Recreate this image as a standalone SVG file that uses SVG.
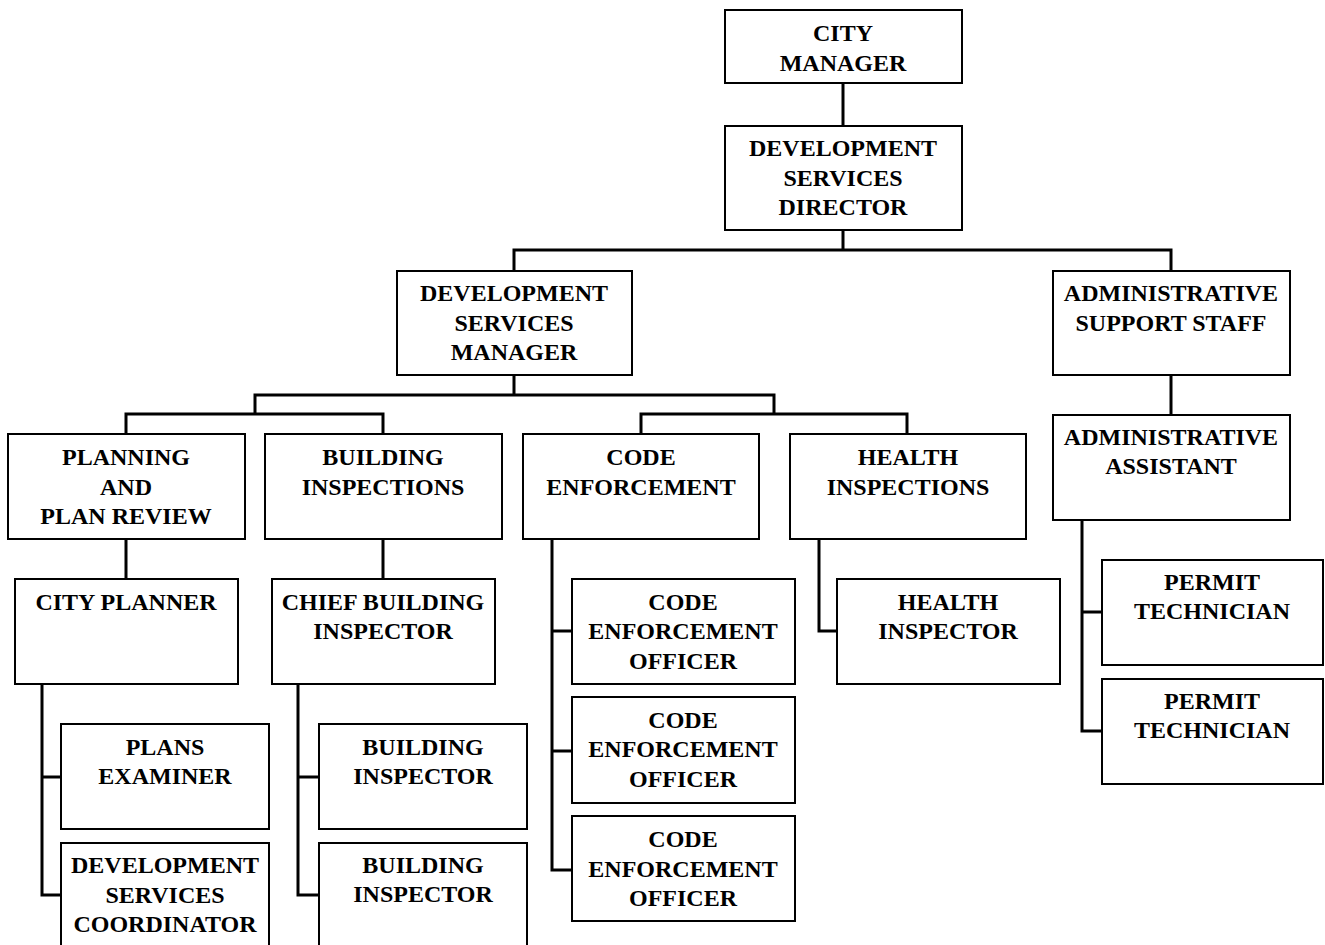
<svg xmlns="http://www.w3.org/2000/svg" width="1325" height="945" viewBox="0 0 1325 945">
<style>
.box{fill:#fff;stroke:#000;stroke-width:2}
.t{font-family:"Liberation Serif","Times New Roman",serif;font-weight:bold;font-size:24px;text-anchor:middle;fill:#000}
.c{fill:none;stroke:#000;stroke-width:3;stroke-linejoin:miter}
</style>
<rect width="1325" height="945" fill="#fff"/>
<g id="connectors">
<path class="c" d="M843,83V126"/>
<path class="c" d="M843,230V250M514,271V250H1171V271"/>
<path class="c" d="M514,375V395M255,414V395H774V414M126,434V414H383V434M641,434V414H907V434"/>
<path class="c" d="M1171,375V415"/>
<path class="c" d="M126,539V579M383,539V579"/>
<path class="c" d="M42,684V895H61M42,777H61"/>
<path class="c" d="M298,684V895H319M298,777H319"/>
<path class="c" d="M552,539V870H572M552,631H572M552,751H572"/>
<path class="c" d="M819,539V631H837"/>
<path class="c" d="M1082,520V731H1102M1082,612H1102"/>
</g>
<g id="city-manager"><rect class="box" x="725" y="10" width="237" height="73"/><text class="t" x="843" y="41">CITY</text><text class="t" x="843" y="71">MANAGER</text></g>
<g id="dev-services-director"><rect class="box" x="725" y="126" width="237" height="104"/><text class="t" x="843" y="156">DEVELOPMENT</text><text class="t" x="843" y="186">SERVICES</text><text class="t" x="843" y="215">DIRECTOR</text></g>
<g id="dev-services-manager"><rect class="box" x="397" y="271" width="235" height="104"/><text class="t" x="514" y="301">DEVELOPMENT</text><text class="t" x="514" y="331">SERVICES</text><text class="t" x="514" y="360">MANAGER</text></g>
<g id="admin-support-staff"><rect class="box" x="1053" y="271" width="237" height="104"/><text class="t" x="1171" y="301">ADMINISTRATIVE</text><text class="t" x="1171" y="331">SUPPORT STAFF</text></g>
<g id="planning"><rect class="box" x="8" y="434" width="237" height="105"/><text class="t" x="126" y="465">PLANNING</text><text class="t" x="126" y="495">AND</text><text class="t" x="126" y="524">PLAN REVIEW</text></g>
<g id="building-inspections"><rect class="box" x="265" y="434" width="237" height="105"/><text class="t" x="383" y="465">BUILDING</text><text class="t" x="383" y="495">INSPECTIONS</text></g>
<g id="code-enforcement"><rect class="box" x="523" y="434" width="236" height="105"/><text class="t" x="641" y="465">CODE</text><text class="t" x="641" y="495">ENFORCEMENT</text></g>
<g id="health-inspections"><rect class="box" x="790" y="434" width="236" height="105"/><text class="t" x="908" y="465">HEALTH</text><text class="t" x="908" y="495">INSPECTIONS</text></g>
<g id="admin-assistant"><rect class="box" x="1053" y="415" width="237" height="105"/><text class="t" x="1171" y="445">ADMINISTRATIVE</text><text class="t" x="1171" y="474">ASSISTANT</text></g>
<g id="city-planner"><rect class="box" x="15" y="579" width="223" height="105"/><text class="t" x="126" y="610">CITY PLANNER</text></g>
<g id="chief-building-inspector"><rect class="box" x="272" y="579" width="223" height="105"/><text class="t" x="383" y="610">CHIEF BUILDING</text><text class="t" x="383" y="639">INSPECTOR</text></g>
<g id="ceo-1"><rect class="box" x="572" y="579" width="223" height="105"/><text class="t" x="683" y="610">CODE</text><text class="t" x="683" y="639">ENFORCEMENT</text><text class="t" x="683" y="669">OFFICER</text></g>
<g id="health-inspector"><rect class="box" x="837" y="579" width="223" height="105"/><text class="t" x="948" y="610">HEALTH</text><text class="t" x="948" y="639">INSPECTOR</text></g>
<g id="permit-tech-1"><rect class="box" x="1102" y="560" width="221" height="105"/><text class="t" x="1212" y="590">PERMIT</text><text class="t" x="1212" y="619">TECHNICIAN</text></g>
<g id="permit-tech-2"><rect class="box" x="1102" y="679" width="221" height="105"/><text class="t" x="1212" y="709">PERMIT</text><text class="t" x="1212" y="738">TECHNICIAN</text></g>
<g id="plans-examiner"><rect class="box" x="61" y="724" width="208" height="105"/><text class="t" x="165" y="755">PLANS</text><text class="t" x="165" y="784">EXAMINER</text></g>
<g id="building-inspector-1"><rect class="box" x="319" y="724" width="208" height="105"/><text class="t" x="423" y="755">BUILDING</text><text class="t" x="423" y="784">INSPECTOR</text></g>
<g id="ceo-2"><rect class="box" x="572" y="697" width="223" height="106"/><text class="t" x="683" y="728">CODE</text><text class="t" x="683" y="757">ENFORCEMENT</text><text class="t" x="683" y="787">OFFICER</text></g>
<g id="dev-services-coordinator"><rect class="box" x="61" y="843" width="208" height="110"/><text class="t" x="165" y="873">DEVELOPMENT</text><text class="t" x="165" y="903">SERVICES</text><text class="t" x="165" y="932">COORDINATOR</text></g>
<g id="building-inspector-2"><rect class="box" x="319" y="843" width="208" height="110"/><text class="t" x="423" y="873">BUILDING</text><text class="t" x="423" y="902">INSPECTOR</text></g>
<g id="ceo-3"><rect class="box" x="572" y="816" width="223" height="105"/><text class="t" x="683" y="847">CODE</text><text class="t" x="683" y="877">ENFORCEMENT</text><text class="t" x="683" y="906">OFFICER</text></g>
</svg>
